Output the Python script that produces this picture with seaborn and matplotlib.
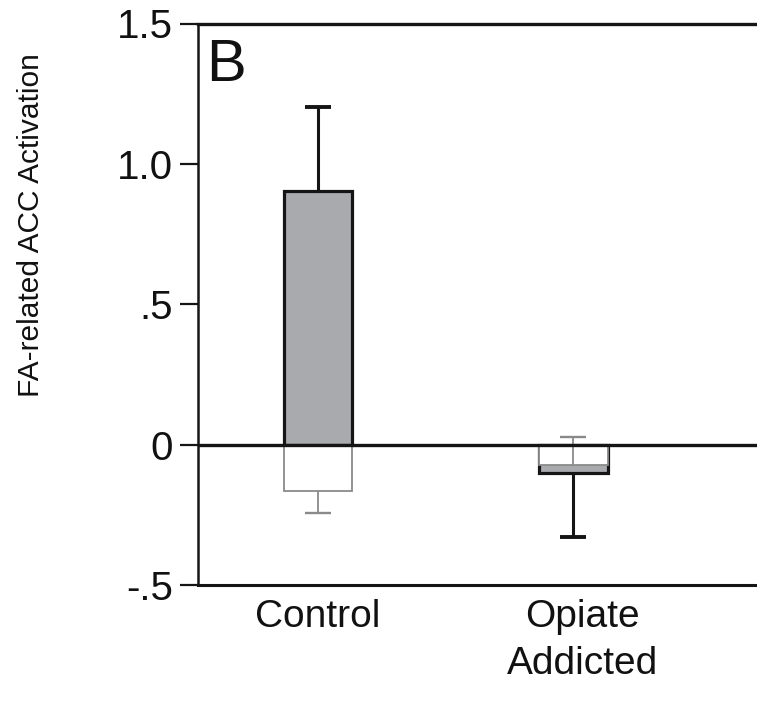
import matplotlib
matplotlib.use("Agg")
import matplotlib.pyplot as plt
import matplotlib.transforms as mtransforms
from matplotlib import font_manager
import seaborn as sns
import pandas as pd

# Group labels and bar values (activation, arbitrary units)
groups = ["Control", "Opiate\nAddicted"]
gray_vals = [0.905, -0.100]
gray_err_lo = [0.0, 0.230]
gray_err_hi = [0.298, 0.0]
white_vals = [-0.166, -0.071]
white_err_lo = [0.076, 0.0]
white_err_hi = [0.0, 0.099]
y_ticks = [-0.5, 0.0, 0.5, 1.0, 1.5]
y_tick_labels = ["-.5", "0", ".5", "1.0", "1.5"]

sns.set_style("white")
available = {f.name for f in font_manager.fontManager.ttflist}
base_font = "Liberation Sans" if "Liberation Sans" in available else "DejaVu Sans"
plt.rcParams["font.family"] = [base_font, "DejaVu Sans"]
plt.rcParams["text.color"] = "#111111"
plt.rcParams["xtick.color"] = "#111111"
plt.rcParams["ytick.color"] = "#111111"

W, H = 757, 706
fig = plt.figure(figsize=(W / 100, H / 100), dpi=100)
fig.patch.set_facecolor("white")
ax = fig.add_axes([198 / W, 1 - 585 / H, (W - 198) / W, (585 - 23.5) / H])

df_gray = pd.DataFrame({"group": groups, "value": gray_vals})
df_white = pd.DataFrame({"group": groups, "value": white_vals})

bar_w = 0.27
sns.barplot(data=df_gray, x="group", y="value", color="#a8aaae", width=bar_w,
            edgecolor="#151515", linewidth=2.3, saturation=1, errorbar=None,
            ax=ax, zorder=2)
sns.barplot(data=df_white, x="group", y="value", color="white", width=bar_w,
            edgecolor="#8a8a8a", linewidth=1.3, saturation=1, errorbar=None,
            ax=ax, zorder=3)


def one_sided_errors(vals, lo, hi, color, lw, cap_lw, zorder):
    """Draw error whiskers only on the side that carries an error, with a cap at its end."""
    cap_half = 0.05
    for x, v, e_lo, e_hi in zip(range(len(vals)), vals, lo, hi):
        for end in ([v + e_hi] if e_hi > 0 else []) + ([v - e_lo] if e_lo > 0 else []):
            ax.vlines(x, v, end, color=color, linewidth=lw, zorder=zorder)
            ax.hlines(end, x - cap_half, x + cap_half, color=color,
                      linewidth=cap_lw, zorder=zorder)


one_sided_errors(gray_vals, gray_err_lo, gray_err_hi, "#151515", 2.2, 2.8, 5)
one_sided_errors(white_vals, white_err_lo, white_err_hi, "#8a8a8a", 1.3, 1.7, 4)

ax.axhline(0, color="#151515", linewidth=2.4, zorder=6)

xpos = list(range(len(groups)))
ax.set_ylim(-0.5, 1.5)
ax.set_xlim(-0.47, 1.72)
ax.set_yticks(y_ticks)
ax.set_yticklabels(y_tick_labels, fontsize=29)
ax.tick_params(axis="y", direction="out", length=13, width=1.6, pad=5,
               color="#151515", left=True, labelcolor="#111111")
ax.tick_params(axis="x", length=0, pad=10, labelcolor="#111111")
ax.set_xticks(xpos)
ax.set_xticklabels(groups, fontsize=28, linespacing=1.38, va="top")
# nudge the second group label slightly to the right
lbl = ax.get_xticklabels()[1]
lbl.set_transform(lbl.get_transform() +
                  mtransforms.ScaledTranslation(9 / 100, 0, fig.dpi_scale_trans))
ax.set_xlabel("")
ax.set_ylabel("")

for side in ("top", "bottom", "left"):
    ax.spines[side].set_visible(True)
    ax.spines[side].set_color("#151515")
ax.spines["top"].set_linewidth(2.4)
ax.spines["bottom"].set_linewidth(2.2)
ax.spines["left"].set_linewidth(1.8)
ax.spines["right"].set_visible(False)

fig.text(31 / W, 1 - 225 / H, "FA-related ACC Activation", rotation=90,
         ha="center", va="center", fontsize=21.5, color="#111111")
fig.text(206 / W, 1 - 81 / H, "B", fontsize=43, ha="left", va="baseline",
         color="#111111")

fig.savefig("out.png", dpi=100, facecolor="white")
